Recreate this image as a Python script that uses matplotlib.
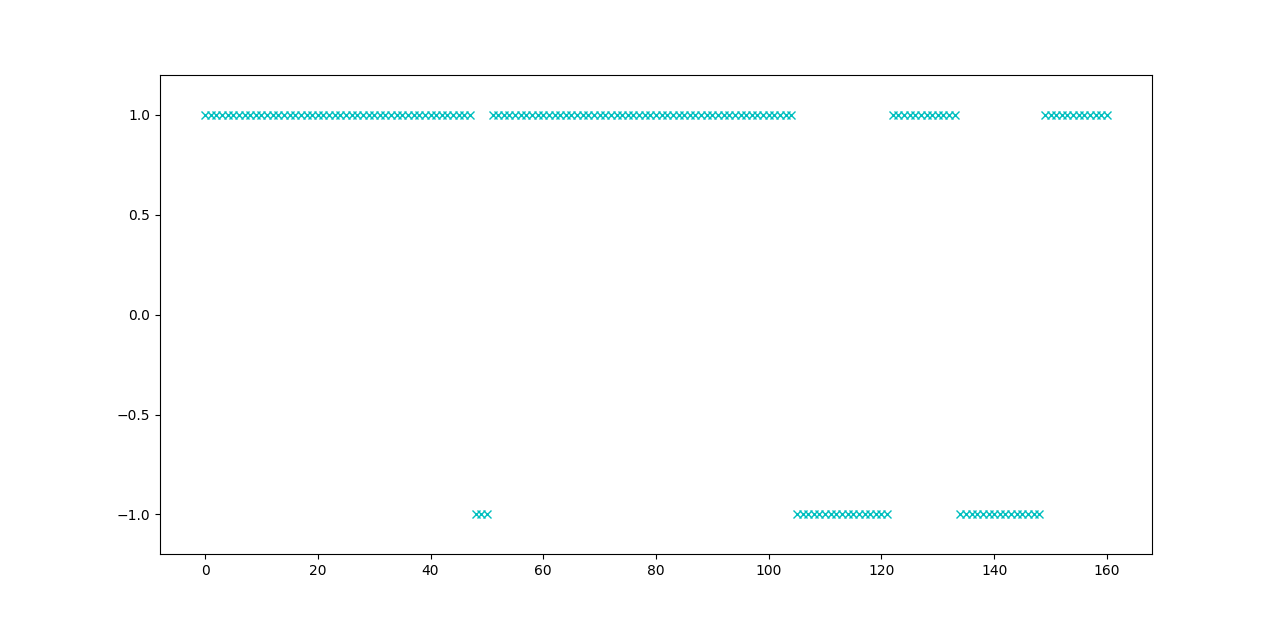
import matplotlib
matplotlib.use("Agg")
import matplotlib.pyplot as plt

# Sample index and predicted label (+1 / -1)
x_index = list(range(0, 161))
labels = [
    1, 1, 1, 1, 1, 1, 1, 1, 1, 1,   # 0-9
    1, 1, 1, 1, 1, 1, 1, 1, 1, 1,   # 10-19
    1, 1, 1, 1, 1, 1, 1, 1, 1, 1,   # 20-29
    1, 1, 1, 1, 1, 1, 1, 1, 1, 1,   # 30-39
    1, 1, 1, 1, 1, 1, 1, 1, -1, -1, # 40-49
    -1, 1, 1, 1, 1, 1, 1, 1, 1, 1,  # 50-59
    1, 1, 1, 1, 1, 1, 1, 1, 1, 1,   # 60-69
    1, 1, 1, 1, 1, 1, 1, 1, 1, 1,   # 70-79
    1, 1, 1, 1, 1, 1, 1, 1, 1, 1,   # 80-89
    1, 1, 1, 1, 1, 1, 1, 1, 1, 1,   # 90-99
    1, 1, 1, 1, 1, -1, -1, -1, -1, -1,      # 100-109
    -1, -1, -1, -1, -1, -1, -1, -1, -1, -1, # 110-119
    -1, -1, 1, 1, 1, 1, 1, 1, 1, 1,         # 120-129
    1, 1, 1, 1, -1, -1, -1, -1, -1, -1,     # 130-139
    -1, -1, -1, -1, -1, -1, -1, -1, -1, 1,  # 140-149
    1, 1, 1, 1, 1, 1, 1, 1, 1, 1,           # 150-159
    1,                                      # 160
]

fig, ax = plt.subplots(figsize=(12.8, 6.23), dpi=100)
ax.plot(x_index, labels, 'cx')
ax.set_ylim(-1.2, 1.2)
fig.savefig("out.png", dpi=100)
